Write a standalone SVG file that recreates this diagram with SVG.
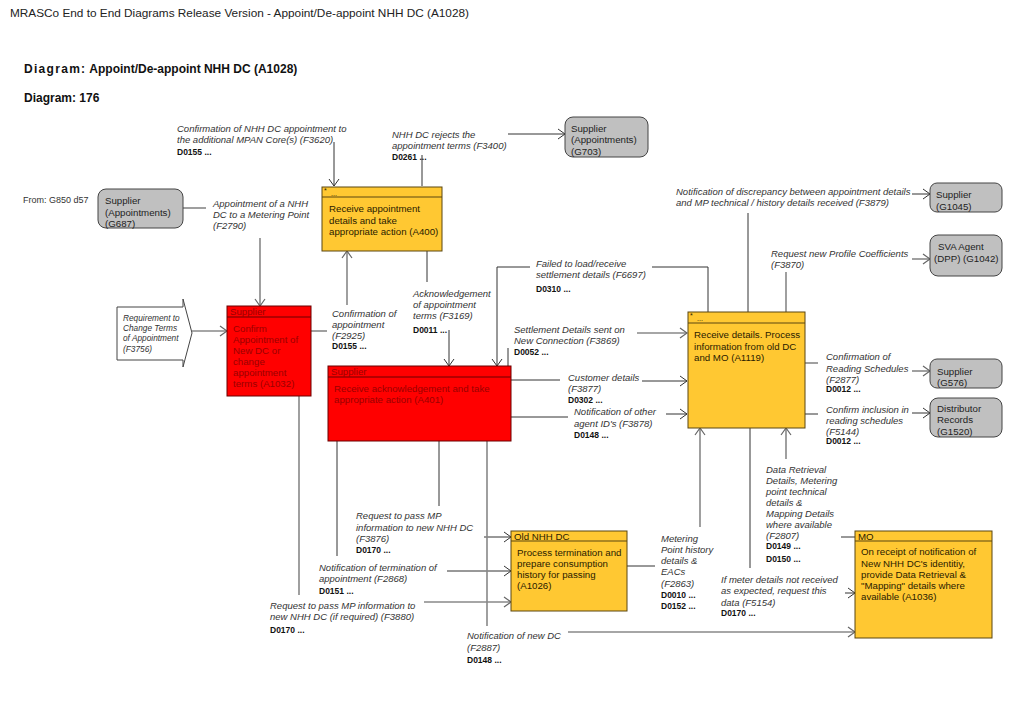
<svg xmlns="http://www.w3.org/2000/svg" width="1023" height="708" viewBox="0 0 1023 708">
<style>
text{font-family:"Liberation Sans",Arial,sans-serif}
.t{font-size:11.8px;fill:#222}
.h{font-size:12px;font-weight:bold;fill:#111}
.n{font-size:9.7px;fill:#2a2000}
.gn{font-size:9.7px;fill:#222}
.r{font-size:9.7px;fill:#9a0000}
.l{font-size:9.5px;font-style:italic;fill:#333}
.d{font-size:8.5px;font-weight:bold;fill:#111}
.sm{font-size:9px;fill:#333}
.st{font-size:7px;fill:#2a2000}
.gray{fill:#c0c0c0;stroke:#444;stroke-width:1}
.yel{fill:#ffc832;stroke:#5a4610;stroke-width:1}
.red{fill:#ff0000;stroke:#6a0000;stroke-width:1}
.k{fill:none;stroke:#333;stroke-width:1}
.g{fill:none;stroke:#888;stroke-width:1.6}
.ka{fill:none;stroke:#333;stroke-width:1;marker-end:url(#ak)}
.ga{fill:none;stroke:#888;stroke-width:1.6;marker-end:url(#ag)}
</style>
<defs>
<marker id="ak" markerUnits="userSpaceOnUse" markerWidth="10" markerHeight="12" viewBox="0 0 10 12" refX="9" refY="6" orient="auto">
<path d="M2,1 L9,6 L2,11" fill="none" stroke="#333" stroke-width="1"/>
</marker>
<marker id="ag" markerUnits="userSpaceOnUse" markerWidth="10" markerHeight="12" viewBox="0 0 10 12" refX="9" refY="6" orient="auto">
<path d="M2,1 L9,6 L2,11" fill="none" stroke="#666" stroke-width="1.2"/>
</marker>
</defs>
<rect width="1023" height="708" fill="#fff"/>

<g id="headings">
<text class="t" x="10" y="17">MRASCo End to End Diagrams Release Version - Appoint/De-appoint NHH DC (A1028)</text>
<text class="h" x="24" y="73"><tspan letter-spacing="1.3">Diagram:</tspan> Appoint/De-appoint NHH DC (A1028)</text>
<text class="h" x="24" y="102">Diagram: 176</text>
<text class="sm" x="23" y="203">From: G850 d57</text>
</g>

<g id="connectors">
<g id="c-F2790">
<path class="g" d="M183,208 H206"/>
<path class="ga" d="M260,238 V306"/>
<text class="l" x="213"><tspan x="213" y="207">Appointment of a NHH</tspan><tspan x="213" y="218">DC to a Metering Point</tspan><tspan x="213" y="229">(F2790)</tspan></text>
</g>
<g id="c-F3756">
<path class="ga" d="M192,331 H227"/>
</g>
<g id="c-F3620">
<path class="ka" d="M334,142 V186"/>
<text class="l"><tspan x="177" y="132">Confirmation of NHH DC appointment to</tspan><tspan x="177" y="143">the additional MPAN Core(s) (F3620)</tspan></text>
<text class="d" x="177" y="155">D0155 ...</text>
</g>
<g id="c-F3400">
<path class="k" d="M422,186 V155"/>
<path class="ka" d="M508,134 H565"/>
<text class="l"><tspan x="392" y="138">NHH DC rejects the</tspan><tspan x="392" y="149">appointment terms (F3400)</tspan></text>
<text class="d" x="392" y="160">D0261 ...</text>
</g>
<g id="c-F2925">
<path class="g" d="M311,331 H327"/>
<path class="ga" d="M347,305 V251"/>
<text class="l"><tspan x="332" y="317">Confirmation of</tspan><tspan x="332" y="328">appointment</tspan><tspan x="332" y="339">(F2925)</tspan></text>
<text class="d" x="332" y="349">D0155 ...</text>
</g>
<g id="c-F3169">
<path class="k" d="M427,251 V282"/>
<path class="ka" d="M449,330 V366"/>
<text class="l"><tspan x="413" y="297">Acknowledgement</tspan><tspan x="413" y="308">of appointment</tspan><tspan x="413" y="319">terms (F3169)</tspan></text>
<text class="d" x="413" y="333">D0011 ...</text>
</g>
<g id="c-F6697">
<path class="k" d="M708,312 V267 H652"/>
<path class="ka" d="M530,267 H497 V366"/>
<text class="l"><tspan x="536" y="267">Failed to load/receive</tspan><tspan x="536" y="278">settlement details (F6697)</tspan></text>
<text class="d" x="536" y="292">D0310 ...</text>
</g>
<g id="c-F3869">
<path class="k" d="M508,366 V348"/>
<path class="ga" d="M637,333 H687"/>
<text class="l"><tspan x="514" y="333">Settlement Details sent on</tspan><tspan x="514" y="344">New Connection (F3869)</tspan></text>
<text class="d" x="514" y="355">D0052 ...</text>
</g>
<g id="c-F3877">
<path class="k" d="M511,380 H560"/>
<path class="ka" d="M642,381 H687"/>
<text class="l"><tspan x="568" y="381">Customer details</tspan><tspan x="568" y="392">(F3877)</tspan></text>
<text class="d" x="568" y="403">D0302 ...</text>
</g>
<g id="c-F3878">
<path class="k" d="M511,417 H568"/>
<path class="ka" d="M666,414 H687"/>
<text class="l"><tspan x="574" y="415">Notification of other</tspan><tspan x="574" y="427">agent ID's (F3878)</tspan></text>
<text class="d" x="574" y="438">D0148 ...</text>
</g>
<g id="c-F3879">
<path class="k" d="M748,312 V213"/>
<path class="ka" d="M912,194 H930"/>
<text class="l"><tspan x="676" y="195">Notification of discrepancy between appointment details</tspan><tspan x="676" y="206">and MP technical / history details received (F3879)</tspan></text>
</g>
<g id="c-F3870">
<path class="g" d="M786,312 V272"/>
<path class="ga" d="M912,259 H930"/>
<text class="l"><tspan x="771" y="257">Request new Profile Coefficients</tspan><tspan x="771" y="268">(F3870)</tspan></text>
</g>
<g id="c-F2877">
<path class="g" d="M805,363 H818"/>
<path class="ga" d="M912,371 H930"/>
<text class="l"><tspan x="826" y="360">Confirmation of</tspan><tspan x="826" y="372">Reading Schedules</tspan><tspan x="826" y="383">(F2877)</tspan></text>
<text class="d" x="826" y="392">D0012 ...</text>
</g>
<g id="c-F5144">
<path class="k" d="M805,414 H818"/>
<path class="ka" d="M912,413 H930"/>
<text class="l"><tspan x="826" y="413">Confirm inclusion in</tspan><tspan x="826" y="424">reading schedules</tspan><tspan x="826" y="435">(F5144)</tspan></text>
<text class="d" x="826" y="444">D0012 ...</text>
</g>
<g id="c-F3876">
<path class="k" d="M439,441 V506"/>
<path class="ka" d="M484,537 H511"/>
<text class="l"><tspan x="356" y="519">Request to pass MP</tspan><tspan x="356" y="531">information to new NHH DC</tspan><tspan x="356" y="542">(F3876)</tspan></text>
<text class="d" x="356" y="553">D0170 ...</text>
</g>
<g id="c-F2868">
<path class="k" d="M337,441 V556"/>
<path class="ka" d="M447,571 H511"/>
<text class="l"><tspan x="319" y="571">Notification of termination of</tspan><tspan x="319" y="582">appointment (F2868)</tspan></text>
<text class="d" x="319" y="594">D0151 ...</text>
</g>
<g id="c-F3880">
<path class="g" d="M299,396 V595"/>
<path class="ga" d="M424,602 H511"/>
<text class="l"><tspan x="270" y="609">Request to pass MP information to</tspan><tspan x="270" y="620">new NHH DC (if required) (F3880)</tspan></text>
<text class="d" x="270" y="633">D0170 ...</text>
</g>
<g id="c-F2887">
<path class="g" d="M487,441 V626"/>
<path class="ga" d="M568,632 H855"/>
<text class="l"><tspan x="467" y="639">Notification of new DC</tspan><tspan x="467" y="651">(F2887)</tspan></text>
<text class="d" x="467" y="663">D0148 ...</text>
</g>
<g id="c-F2863">
<path class="k" d="M627,566 H655"/>
<path class="ga" d="M700,527 V428"/>
<text class="l"><tspan x="661" y="542">Metering</tspan><tspan x="661" y="553">Point history</tspan><tspan x="661" y="564">details &amp;</tspan><tspan x="661" y="575">EACs</tspan><tspan x="661" y="587">(F2863)</tspan></text>
<text class="d" x="661" y="598">D0010 ...</text>
<text class="d" x="661" y="609">D0152 ...</text>
</g>
<g id="c-F2807">
<path class="k" d="M855,537 H841"/>
<path class="ga" d="M786,459 V428"/>
<text class="l"><tspan x="766" y="473">Data Retrieval</tspan><tspan x="766" y="484">Details, Metering</tspan><tspan x="766" y="495">point technical</tspan><tspan x="766" y="506">details &amp;</tspan><tspan x="766" y="517">Mapping Details</tspan><tspan x="766" y="528">where available</tspan><tspan x="766" y="539">(F2807)</tspan></text>
<text class="d" x="766" y="549">D0149 ...</text>
<text class="d" x="766" y="562">D0150 ...</text>
</g>
<g id="c-F5154">
<path class="k" d="M750,428 V568"/>
<path class="ka" d="M845,593 H855"/>
<text class="l"><tspan x="721" y="583">If meter details not received</tspan><tspan x="721" y="594">as expected, request this</tspan><tspan x="721" y="606">data (F5154)</tspan></text>
<text class="d" x="721" y="616">D0170 ...</text>
</g>
</g>

<g id="G687">
<rect class="gray" x="98" y="189" width="85" height="39" rx="8"/>
<text class="gn"><tspan x="105" y="204">Supplier</tspan><tspan x="105" y="216">(Appointments)</tspan><tspan x="105" y="227">(G687)</tspan></text>
</g>
<g id="G703">
<rect class="gray" x="565" y="117" width="83" height="40" rx="8"/>
<text class="gn"><tspan x="571" y="132">Supplier</tspan><tspan x="571" y="143">(Appointments)</tspan><tspan x="571" y="155">(G703)</tspan></text>
</g>
<g id="G1045">
<rect class="gray" x="930" y="183" width="72" height="29" rx="7"/>
<text class="gn"><tspan x="936" y="198">Supplier</tspan><tspan x="936" y="210">(G1045)</tspan></text>
</g>
<g id="G1042">
<rect class="gray" x="930" y="235" width="72" height="41" rx="8"/>
<text class="gn"><tspan x="938" y="250">SVA Agent</tspan><tspan x="934" y="262">(DPP) (G1042)</tspan></text>
</g>
<g id="G576">
<rect class="gray" x="930" y="359" width="72" height="29" rx="7"/>
<text class="gn"><tspan x="937" y="375">Supplier</tspan><tspan x="937" y="386">(G576)</tspan></text>
</g>
<g id="G1520">
<rect class="gray" x="930" y="398" width="72" height="39" rx="8"/>
<text class="gn"><tspan x="937" y="412">Distributor</tspan><tspan x="937" y="423">Records</tspan><tspan x="937" y="435">(G1520)</tspan></text>
</g>

<g id="F3756">
<polygon points="117,307 183,307 183,299 192,333 183,367 183,360 117,360" fill="#fff" stroke="#444" stroke-width="1"/>
<text class="l" style="font-size:8.3px"><tspan x="123" y="321">Requirement to</tspan><tspan x="123" y="331">Change Terms</tspan><tspan x="123" y="341">of Appointment</tspan><tspan x="123" y="352">(F3756)</tspan></text>
</g>

<g id="A400">
<rect class="yel" x="322" y="187" width="120" height="64"/>
<line x1="322" y1="197" x2="442" y2="197" stroke="#5a4610"/>
<text class="st" x="324" y="193">*</text>
<text class="st" x="331" y="196">...</text>
<text class="n"><tspan x="329" y="212">Receive appointment</tspan><tspan x="329" y="223.5">details and take</tspan><tspan x="329" y="235">appropriate action (A400)</tspan></text>
</g>

<g id="A1032">
<rect class="red" x="227" y="306" width="84" height="90"/>
<line x1="227" y1="317" x2="311" y2="317" stroke="#6a0000"/>
<text class="r" x="230" y="315">Supplier</text>
<text class="r"><tspan x="233" y="332">Confirm</tspan><tspan x="233" y="343">Appointment of</tspan><tspan x="233" y="354">New DC or</tspan><tspan x="233" y="365">change</tspan><tspan x="233" y="376">appointment</tspan><tspan x="233" y="387">terms (A1032)</tspan></text>
</g>

<g id="A401">
<rect class="red" x="328" y="366" width="183" height="75"/>
<line x1="328" y1="377" x2="511" y2="377" stroke="#6a0000"/>
<text class="r" x="331" y="375">Supplier</text>
<text class="r"><tspan x="334" y="392">Receive acknowledgement and take</tspan><tspan x="334" y="403">appropriate action (A401)</tspan></text>
</g>

<g id="A1119">
<rect class="yel" x="688" y="312" width="117" height="116"/>
<line x1="688" y1="323" x2="805" y2="323" stroke="#5a4610"/>
<text class="st" x="690" y="318">*</text>
<text class="st" x="697" y="321">...</text>
<text class="n"><tspan x="694" y="338">Receive details. Process</tspan><tspan x="694" y="349.5">information from old DC</tspan><tspan x="694" y="361">and MO (A1119)</tspan></text>
</g>

<g id="A1026">
<rect class="yel" x="511" y="531" width="116" height="80"/>
<line x1="511" y1="541" x2="627" y2="541" stroke="#5a4610"/>
<text class="n" x="514" y="540">Old NHH DC</text>
<text class="n"><tspan x="517" y="556">Process termination and</tspan><tspan x="517" y="567">prepare consumption</tspan><tspan x="517" y="578">history for passing</tspan><tspan x="517" y="589">(A1026)</tspan></text>
</g>

<g id="A1036">
<rect class="yel" x="855" y="531" width="137" height="107"/>
<line x1="855" y1="541" x2="992" y2="541" stroke="#5a4610"/>
<text class="n" x="858" y="540">MO</text>
<text class="n"><tspan x="861" y="555">On receipt of notification of</tspan><tspan x="861" y="567">New NHH DC's identitiy,</tspan><tspan x="861" y="578">provide Data Retrieval &amp;</tspan><tspan x="861" y="589">"Mapping" details where</tspan><tspan x="861" y="600">available (A1036)</tspan></text>
</g>
</svg>
